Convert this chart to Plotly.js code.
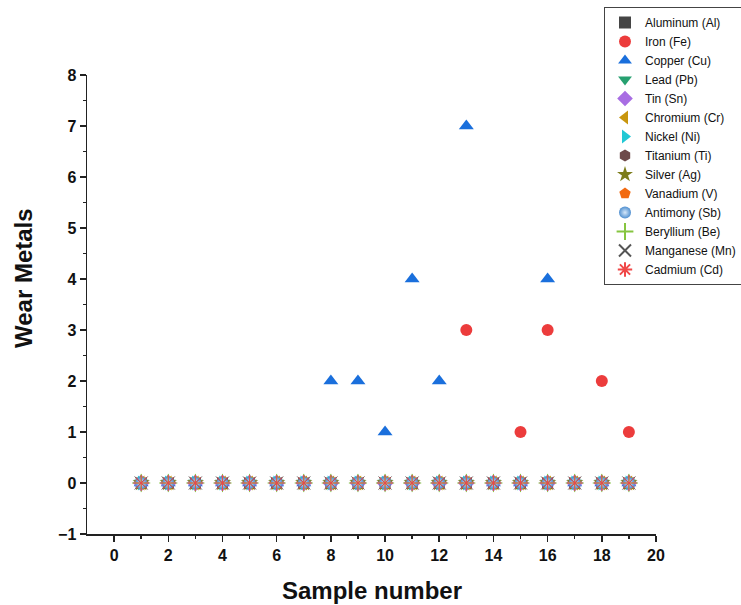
<!DOCTYPE html>
<html>
<head>
<meta charset="utf-8">
<script src="https://cdn.plot.ly/plotly-3.0.1.min.js"></script>
<style>html,body{margin:0;padding:0;background:#fff;}#chart{width:741px;height:605px;}</style>
</head>
<body>
<div id="chart"></div>
<script>
const samples = [1,2,3,4,5,6,7,8,9,10,11,12,13,14,15,16,17,18,19];
const aluminum  = [0,0,0,0,0,0,0,0,0,0,0,0,0,0,0,0,0,0,0];
const iron      = [0,0,0,0,0,0,0,0,0,0,0,0,3,0,1,3,0,2,1];
const copper    = [0,0,0,0,0,0,0,2,2,1,4,2,7,0,0,4,0,0,0];
const lead      = [0,0,0,0,0,0,0,0,0,0,0,0,0,0,0,0,0,0,0];
const tin       = [0,0,0,0,0,0,0,0,0,0,0,0,0,0,0,0,0,0,0];
const chromium  = [0,0,0,0,0,0,0,0,0,0,0,0,0,0,0,0,0,0,0];
const nickel    = [0,0,0,0,0,0,0,0,0,0,0,0,0,0,0,0,0,0,0];
const titanium  = [0,0,0,0,0,0,0,0,0,0,0,0,0,0,0,0,0,0,0];
const silver    = [0,0,0,0,0,0,0,0,0,0,0,0,0,0,0,0,0,0,0];
const vanadium  = [0,0,0,0,0,0,0,0,0,0,0,0,0,0,0,0,0,0,0];
const antimony  = [0,0,0,0,0,0,0,0,0,0,0,0,0,0,0,0,0,0,0];
const beryllium = [0,0,0,0,0,0,0,0,0,0,0,0,0,0,0,0,0,0,0];
const manganese = [0,0,0,0,0,0,0,0,0,0,0,0,0,0,0,0,0,0,0];
const cadmium   = [0,0,0,0,0,0,0,0,0,0,0,0,0,0,0,0,0,0,0];

const seriesNames = ["Aluminum (Al)","Iron (Fe)","Copper (Cu)","Lead (Pb)","Tin (Sn)","Chromium (Cr)","Nickel (Ni)","Titanium (Ti)","Silver (Ag)","Vanadium (V)","Antimony (Sb)","Beryllium (Be)","Manganese (Mn)","Cadmium (Cd)"];
const seriesData = [aluminum,iron,copper,lead,tin,chromium,nickel,titanium,silver,vanadium,antimony,beryllium,manganese,cadmium];
const xTickVals = [0,2,4,6,8,10,12,14,16,18,20];
const yTickVals = [-1,0,1,2,3,4,5,6,7,8];
const yTickText = ["\u22121","0","1","2","3","4","5","6","7","8"];

const markers = [
  {symbol:"square", color:"#454545", size:11},
  {symbol:"circle", color:"#ec3c3c", size:12},
  {symbol:"triangle-up", color:"#1a6fdc", size:13},
  {symbol:"triangle-down", color:"#27a070", size:13},
  {symbol:"diamond", color:"#a86de3", size:13},
  {symbol:"triangle-left", color:"#c8960e", size:13},
  {symbol:"triangle-right", color:"#22c8d4", size:13},
  {symbol:"hexagon", color:"#6e4a4a", size:12},
  {symbol:"star", color:"#7d7d1b", size:13},
  {symbol:"pentagon", color:"#f26a10", size:13},
  {symbol:"circle", color:"#4f8fd0", size:12, gradient:{type:"radial", color:"#d6e8fa"}},
  {symbol:"cross-thin-open", color:"#86c540", size:13, line:{color:"#86c540", width:1}},
  {symbol:"x-thin-open", color:"#555555", size:13, line:{color:"#555555", width:1}},
  {symbol:"asterisk-open", color:"#f04848", size:13, line:{color:"#f04848", width:1}}
];

const traces = seriesNames.map((name,i) => {
  const m = markers[i];
  const marker = {symbol:m.symbol, color:m.color, size:m.size, opacity:1};
  if (m.line) marker.line = m.line; else marker.line = {width:0};
  if (m.gradient) marker.gradient = m.gradient;
  return {x:samples, y:seriesData[i], type:"scatter", mode:"markers", name:name, marker:marker};
});

const L = 87, R = 656, T = 75, B = 534;
const W = R - L, H = B - T;
const font = "Arial, Liberation Sans, sans-serif";
const layout = {
  width:741, height:605,
  margin:{l:L, r:741-R, t:T, b:605-B, autoexpand:false},
  paper_bgcolor:"#fff", plot_bgcolor:"#fff",
  showlegend:true,
  legend:{x:(604-L)/W, xanchor:"left", y:1+(T-7)/H, yanchor:"top",
          bgcolor:"#fff", bordercolor:"#444", borderwidth:1,
          font:{family:font, size:12, color:"#111"},
          tracegroupgap:0, itemsizing:"constant"},
  xaxis:{range:[-1,20], tickvals:xTickVals, ticks:"outside", ticklen:6, tickwidth:1.5, tickcolor:"#222",
         minor:{tickvals:[1,3,5,7,9,11,13,15,17,19], ticks:"outside", ticklen:3, tickwidth:1.5, tickcolor:"#222", showgrid:false},
         showline:true, linecolor:"#222", linewidth:1.5, showgrid:false, zeroline:false,
         tickfont:{family:font, size:16, color:"#111", weight:"bold"}},
  yaxis:{range:[-1,8], tickvals:yTickVals, ticktext:yTickText, ticks:"outside", ticklen:6, tickwidth:1.5, tickcolor:"#222",
         minor:{tickvals:[-0.5,0.5,1.5,2.5,3.5,4.5,5.5,6.5,7.5], ticks:"outside", ticklen:3, tickwidth:1.5, tickcolor:"#222", showgrid:false},
         showline:true, linecolor:"#222", linewidth:1.5, showgrid:false, zeroline:false,
         tickfont:{family:font, size:16, color:"#111", weight:"bold"}},
  annotations:[
    {text:"<b>Wear Metals</b>", xref:"paper", yref:"paper", x:(23-L)/W, y:(B-278)/H,
     xanchor:"center", yanchor:"middle", textangle:-90, showarrow:false,
     font:{family:font, size:24, color:"#111"}},
    {text:"<b>Sample number</b>", xref:"paper", yref:"paper", x:(372-L)/W, y:(B-590)/H,
     xanchor:"center", yanchor:"middle", showarrow:false,
     font:{family:font, size:24, color:"#111"}}
  ]
};

Plotly.newPlot("chart", traces, layout, {displayModeBar:false, staticPlot:true});
</script>
</body>
</html>
